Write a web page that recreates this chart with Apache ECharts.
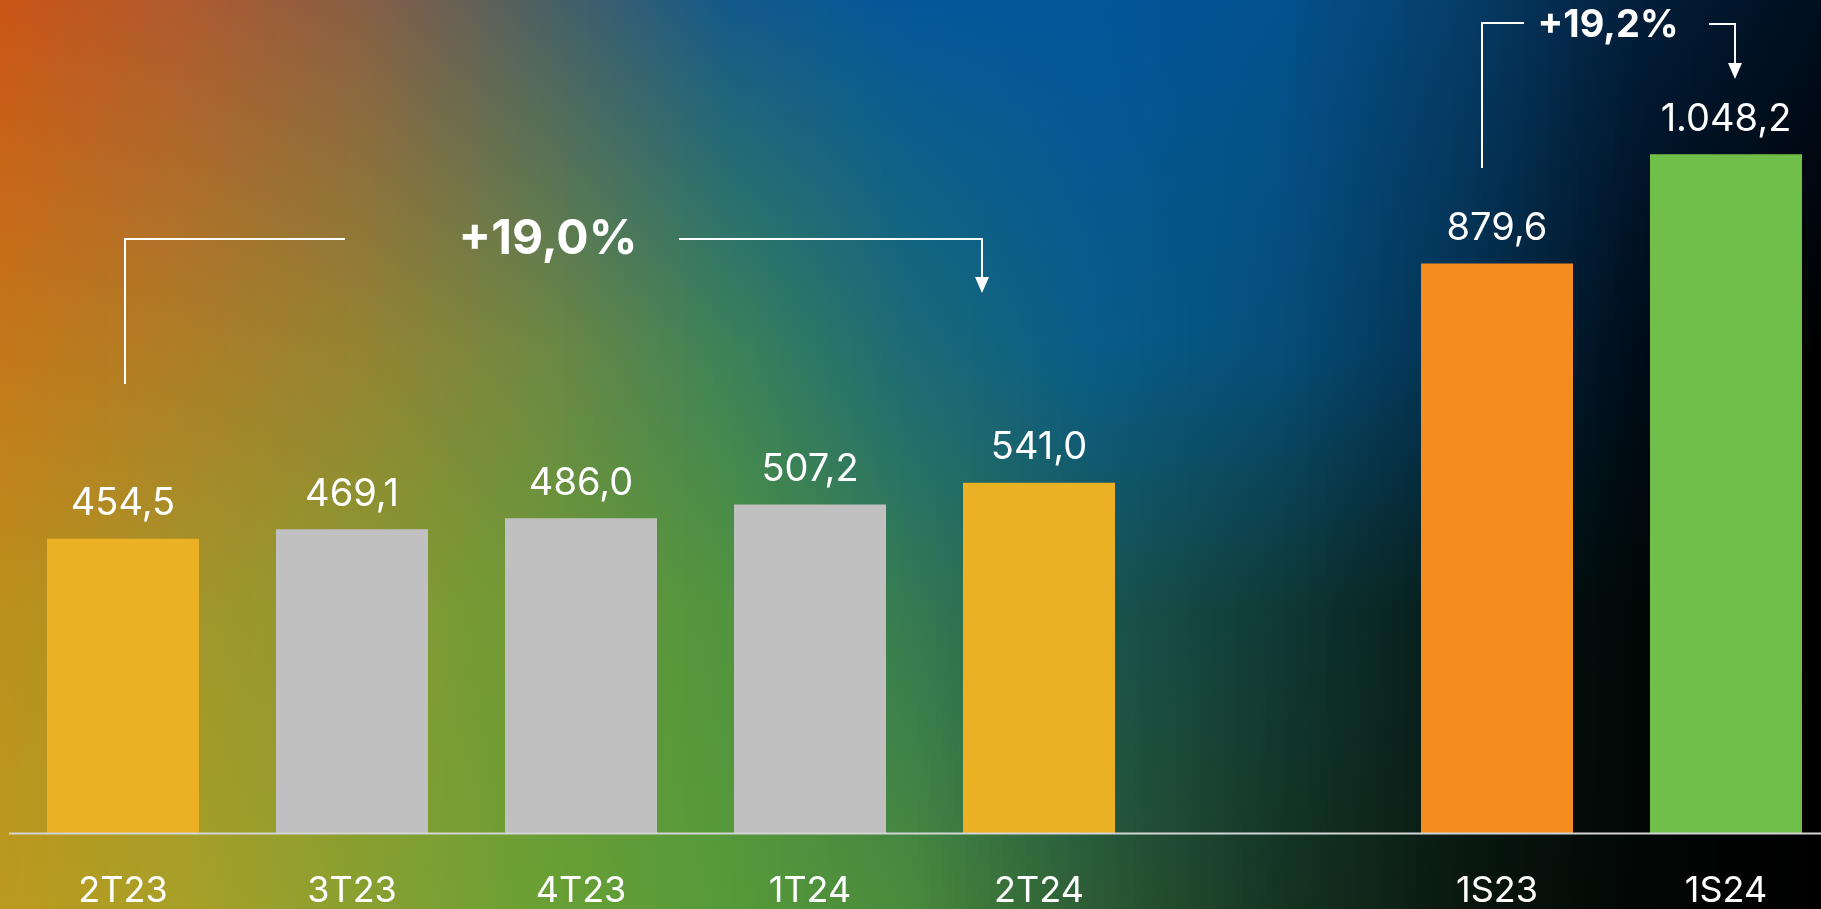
<!DOCTYPE html>
<html>
<head>
<meta charset="utf-8">
<script src="https://cdn.jsdelivr.net/npm/echarts@6/dist/echarts.min.js"></script>
<style>
html,body{margin:0;padding:0;background:#000;}
#chart{width:1821px;height:909px;}
</style>
</head>
<body>
<div id="chart"></div>
<script>
// ---- data ----
const categories = ['2T23', '3T23', '4T23', '1T24', '2T24', '', '1S23', '1S24'];
const values = [454.5, 469.1, 486.0, 507.2, 541.0, null, 879.6, 1048.2];
const barColors = ['#EBB024', '#C0C0C0', '#C0C0C0', '#C0C0C0', '#EBB024', 'transparent', '#F58C20', '#70BF4A'];
// comparisons: [from index, to index]
const comparisons = [[0, 4], [6, 7]];

// ---- background mesh (style only) ----
const meshRows = [0, 0.385, 0.67, 1];
const meshCols = [0, 0.1, 0.2, 0.3, 0.4, 0.5, 0.6, 0.7, 0.8, 0.9, 1];
const meshColors = [
  ['#CB5516', '#AF5A2F', '#875F45', '#4A6064', '#14598A', '#04579A', '#02569A', '#04528F', '#063E6A', '#021E3A', '#000E1E'],
  ['#C4781A', '#AE7E26', '#948432', '#6E8843', '#3C8258', '#1C6A76', '#095C88', '#064E7A', '#03304F', '#000C18', '#000000'],
  ['#BC901C', '#A4962A', '#8A9A30', '#6A9A38', '#52943E', '#357A52', '#1A5650', '#0F3A36', '#061A18', '#000806', '#000000'],
  ['#BC9A1E', '#A8A028', '#88A030', '#68A034', '#569A3A', '#4A8A3C', '#2C5C35', '#163522', '#0A1810', '#020604', '#000000']
];

function hex2rgb(h){h=h.replace('#','');return [parseInt(h.substr(0,2),16),parseInt(h.substr(2,2),16),parseInt(h.substr(4,2),16)];}
function colAt(row, f){
  for (let i = 0; i < meshCols.length - 1; i++) {
    if (f <= meshCols[i+1] || i === meshCols.length - 2) {
      const t = Math.max(0, Math.min(1, (f - meshCols[i]) / (meshCols[i+1] - meshCols[i])));
      const a = hex2rgb(meshColors[row][i]), b = hex2rgb(meshColors[row][i+1]);
      return 'rgb(' + a.map((v,k)=>Math.round(v + (b[k]-v)*t)).join(',') + ')';
    }
  }
}
const W = 1821, H = 909;
const bgElements = [];
const STRIP = 6;
for (let x = 0; x < W; x += STRIP) {
  const f = (x + STRIP/2) / W;
  bgElements.push({
    type: 'rect', silent: true, z: -100,
    shape: {x: x, y: 0, width: STRIP + 1, height: H},
    style: {fill: {type: 'linear', x: 0, y: 0, x2: 0, y2: 1,
      colorStops: meshRows.map((r, i) => ({offset: r, color: colAt(i, f)}))}}
  });
}

function fmt(v){
  const parts = v.toFixed(1).split('.');
  return parts[0].replace(/\B(?=(\d{3})+(?!\d))/g, '.') + ',' + parts[1];
}
function pct(a, b){
  return '+' + ((b / a - 1) * 100).toFixed(1).replace('.', ',') + '%';
}

const FONT = 'Inter, "Noto Sans", sans-serif';
const chart = echarts.init(document.getElementById('chart'), null, {renderer: 'canvas'});
const option = {
  animation: false,
  backgroundColor: '#000',
  grid: {left: 123, top: 56, width: 1603, height: 779, containLabel: false},
  xAxis: {
    type: 'category', data: categories, boundaryGap: false,
    axisLine: {show: false},
    axisTick: {show: false},
    splitLine: {show: false},
    axisLabel: {color: '#FFFFFF', fontFamily: FONT, fontSize: 36, margin: 40, interval: 0}
  },
  yAxis: {type: 'value', min: 0, max: 1200, show: false, splitLine: {show: false}},
  series: [{
    type: 'bar', barWidth: 152,
    data: values.map((v, i) => ({value: v, itemStyle: {color: barColors[i]}})),
    label: {show: true, position: 'top', distance: 16, color: '#FFFFFF', fontFamily: FONT, fontSize: 38,
      formatter: p => p.value == null ? '' : fmt(p.value)}
  }],
  graphic: {elements: bgElements}
};
chart.setOption(option);

// ---- annotations, positioned from the axis scale ----
const px = i => chart.convertToPixel({xAxisIndex: 0}, i);
const y0 = chart.convertToPixel({yAxisIndex: 0}, 0);
const LINE = {stroke: '#FFFFFF', lineWidth: 2, fill: null};
function arrowHead(x, yTip){
  return {type: 'polygon', z: 100, silent: true,
    shape: {points: [[x - 7, yTip - 16], [x + 7, yTip - 16], [x, yTip]]}, style: {fill: '#FFFFFF'}};
}
const ann = [];
// baseline across the full width
ann.push({type: 'line', z: 50, silent: true, shape: {x1: 9, y1: y0 + 0.5, x2: W, y2: y0 + 0.5},
  style: {stroke: '#D4D4D4', lineWidth: 2}});
// first comparison: 2T23 -> 2T24
{
  const [a, b] = comparisons[0];
  const xa = px(a) + 2, xb = px(b) - 57, xt = 548, yl = 239;
  ann.push({type: 'polyline', z: 100, silent: true, shape: {points: [[xa, 384], [xa, yl], [xt - 203, yl]]}, style: LINE});
  ann.push({type: 'polyline', z: 100, silent: true, shape: {points: [[xt + 131, yl], [xb, yl], [xb, 280]]}, style: LINE});
  ann.push(arrowHead(xb, 293));
  ann.push({type: 'text', z: 100, silent: true, style: {text: pct(values[a], values[b]), x: xt, y: yl + 1,
    fill: '#FFFFFF', fontFamily: FONT, fontWeight: 'bold', fontSize: 48, textAlign: 'center', textVerticalAlign: 'middle'}});
}
// second comparison: 1S23 -> 1S24
{
  const [a, b] = comparisons[1];
  const xa = px(a) - 15, xb = px(b) + 9, xt = 1608, yl = 23;
  ann.push({type: 'polyline', z: 100, silent: true, shape: {points: [[xa, 168], [xa, yl], [xt - 84, yl]]}, style: LINE});
  ann.push({type: 'polyline', z: 100, silent: true, shape: {points: [[xt + 101, yl + 1], [xb, yl + 1], [xb, 66]]}, style: LINE});
  ann.push(arrowHead(xb, 79));
  ann.push({type: 'text', z: 100, silent: true, style: {text: pct(values[a], values[b]), x: xt, y: 26,
    fill: '#FFFFFF', fontFamily: FONT, fontWeight: 'bold', fontSize: 38, textAlign: 'center', textVerticalAlign: 'middle'}});
}
chart.setOption({graphic: [{elements: bgElements.concat(ann)}]}, {replaceMerge: ['graphic']});
</script>
</body>
</html>
